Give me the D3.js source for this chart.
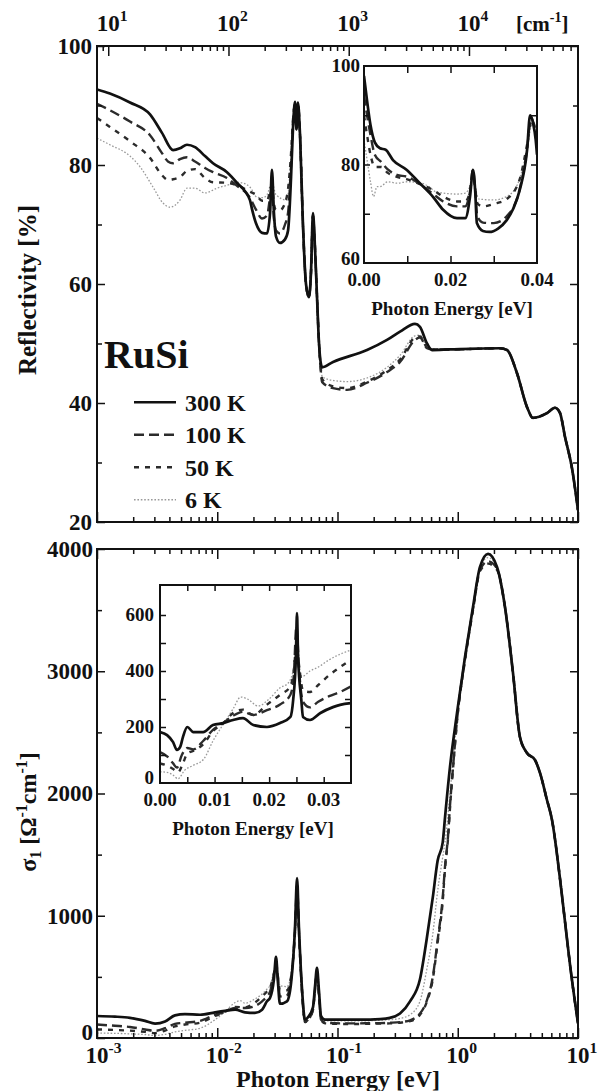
<!DOCTYPE html>
<html>
<head>
<meta charset="utf-8">
<script src="https://cdn.jsdelivr.net/npm/d3@7"></script>
<style>
  body { margin: 0; background: #fff; }
  text { font-family: 'Liberation Serif', 'Times New Roman', serif; font-weight: bold; fill: #111; }
</style>
</head>
<body>
<svg id="chart" width="600" height="1091"></svg>
<script>
/*
*   RuSi reflectivity and optical conductivity
*/

// ---------- data (photon energy in eV, value) ----------
var temps = ["300 K", "100 K", "50 K", "6 K"];

// reflectivity [%], main panel
var refl300 = [[0.001,92.7],[0.00128,92],[0.00188,90.5],[0.00276,88.5],[0.00347,85.4],[0.00429,82.5],[0.0049,82.8],[0.0056,83.4],[0.00653,83],[0.00791,81.5],[0.00922,80.3],[0.01205,78.8],[0.0146,77],[0.0187,74.1],[0.0195,72.5],[0.021,70.2],[0.0236,68.6],[0.0259,68.5],[0.0275,72],[0.0285,79.2],[0.0296,72],[0.0308,68],[0.0332,66.9],[0.0366,67.5],[0.0388,69],[0.0411,78],[0.0426,86],[0.0443,90.6],[0.0456,86],[0.0469,90.5],[0.0488,85],[0.0516,70],[0.0547,60],[0.0579,57.8],[0.0602,62],[0.0625,71.9],[0.065,66],[0.0675,58],[0.0702,50],[0.0729,46.5],[0.0746,46],[0.0918,46.9],[0.176,48.9],[0.258,50.6],[0.331,52],[0.441,53.3],[0.485,52.8],[0.555,50],[0.611,48.9],[0.862,49],[2.25,49.2],[2.57,48.9],[3.11,45],[3.77,39.3],[4.22,37.5],[5.52,38.3],[6.44,39.2],[7.09,38.3],[7.8,34.3],[8.92,29],[10,22]];
var refl100 = [[0.001,90.3],[0.00128,89.2],[0.00188,87.3],[0.00276,85],[0.00347,82],[0.00389,80.6],[0.00429,80.3],[0.0049,81],[0.0056,81.3],[0.00653,80.6],[0.00791,79.5],[0.00922,78.8],[0.01205,77.8],[0.0146,76.5],[0.0187,74.5],[0.021,72.5],[0.0236,71],[0.0259,71.5],[0.0285,76],[0.0296,71],[0.0308,69],[0.0332,68.5],[0.0366,70],[0.0388,72],[0.0411,80],[0.0426,87],[0.0443,90.3],[0.0456,86],[0.0469,90.2],[0.0488,85],[0.0516,70],[0.0547,60],[0.0579,57.8],[0.0602,62],[0.0625,71.5],[0.065,66],[0.0675,58],[0.0702,50],[0.0729,45],[0.0746,43.5],[0.0918,42.5],[0.12,42.2],[0.176,43.4],[0.258,45.2],[0.331,46.9],[0.441,50.6],[0.485,51],[0.555,49.2],[0.611,49],[0.862,49],[2.25,49.2],[2.57,48.9],[3.11,45],[3.77,39.3],[4.22,37.5],[5.52,38.3],[6.44,39.2],[7.09,38.3],[7.8,34.3],[8.92,29],[10,22]];
var refl50 = [[0.001,87.9],[0.00128,86.4],[0.00188,84],[0.00276,81.2],[0.00347,78.3],[0.00389,77.5],[0.00429,77.6],[0.0049,78],[0.0056,79],[0.00653,79.3],[0.00791,77.8],[0.00922,77.1],[0.01205,77],[0.0146,76.6],[0.0187,75.5],[0.021,75],[0.0236,74],[0.0259,74],[0.0285,76.5],[0.0296,73.5],[0.0308,72.5],[0.0332,72.4],[0.0366,73.6],[0.0388,76],[0.0411,82],[0.0426,87.5],[0.0443,90],[0.0456,86.5],[0.0469,90],[0.0488,85],[0.0516,70],[0.0547,60],[0.0579,57.8],[0.0602,62],[0.0625,71.5],[0.065,66],[0.0675,58],[0.0702,50],[0.0729,45.5],[0.0746,44],[0.0918,42.8],[0.12,42.5],[0.176,43.6],[0.258,45.5],[0.331,47.3],[0.441,51],[0.485,51.2],[0.555,49.3],[0.611,49],[0.862,49],[2.25,49.2],[2.57,48.9],[3.11,45],[3.77,39.3],[4.22,37.5],[5.52,38.3],[6.44,39.2],[7.09,38.3],[7.8,34.3],[8.92,29],[10,22]];
var refl6 = [[0.001,84.5],[0.00128,83.4],[0.00188,81.5],[0.00228,79.7],[0.00292,76.3],[0.00354,73.6],[0.00405,72.9],[0.0049,74.1],[0.0056,76.1],[0.00653,76.1],[0.00791,75.3],[0.00995,76.1],[0.01205,76.6],[0.0146,77.1],[0.0161,77],[0.0187,76.3],[0.0214,74.6],[0.024,74.5],[0.0259,75],[0.0285,77],[0.0308,75],[0.038,74.1],[0.0411,82],[0.0426,87.5],[0.0443,90],[0.0456,86.5],[0.0469,90],[0.0488,85],[0.0516,70],[0.0547,60],[0.0579,57.8],[0.0602,62],[0.0625,71.5],[0.065,66],[0.0675,58],[0.0702,50],[0.0729,46],[0.0746,44.4],[0.0918,43.8],[0.12,43.6],[0.176,44.2],[0.258,46],[0.331,48],[0.441,51.3],[0.485,51.4],[0.555,49.4],[0.611,49],[0.862,49],[2.25,49.2],[2.57,48.9],[3.11,45],[3.77,39.3],[4.22,37.5],[5.52,38.3],[6.44,39.2],[7.09,38.3],[7.8,34.3],[8.92,29],[10,22]];

// reflectivity [%], inset (linear energy)
var reflIn300 = [[0,98],[0.0007,93],[0.0015,88],[0.0025,84.5],[0.0037,83.3],[0.005,83],[0.0067,80.9],[0.0099,78.9],[0.0129,76.2],[0.016,73.4],[0.0183,70.8],[0.0215,69.1],[0.0234,69.1],[0.0245,73.4],[0.0252,78.9],[0.0257,74.8],[0.0261,68.1],[0.0275,66.5],[0.029,66.3],[0.031,67],[0.033,68.7],[0.0345,71],[0.036,74.8],[0.0377,82.9],[0.0384,90],[0.0391,88.4],[0.0397,85],[0.04,82]];
var reflIn100 = [[0,94],[0.0007,90],[0.0015,86],[0.0025,82],[0.004,80.5],[0.0055,79],[0.0076,77.9],[0.01,77.5],[0.013,76],[0.016,74],[0.0183,72.5],[0.0215,71.5],[0.0234,71.5],[0.0245,74.5],[0.0252,79],[0.0257,75],[0.0262,69.5],[0.0275,68.2],[0.03,68.1],[0.033,69.5],[0.036,75],[0.0377,83],[0.0386,89.5],[0.0393,88],[0.04,84]];
var reflIn50 = [[0,90],[0.0007,86],[0.0015,82],[0.0025,79.5],[0.004,79.5],[0.0055,78.3],[0.0076,77.5],[0.01,77],[0.013,76],[0.016,74.8],[0.0183,73.5],[0.0215,72.5],[0.0234,72.5],[0.0245,74.5],[0.0252,78],[0.0257,75],[0.0263,72],[0.0275,71.5],[0.03,72],[0.033,73],[0.036,77],[0.0377,84],[0.0388,89],[0.0395,87.5],[0.04,84]];
var reflIn6 = [[0,85],[0.0007,81],[0.0015,76.5],[0.0022,73.5],[0.003,75.5],[0.0037,75.5],[0.0055,76.5],[0.0076,76.2],[0.01,76.5],[0.013,76.3],[0.015,75.5],[0.0165,74.5],[0.0183,74.2],[0.0215,74],[0.0234,74.2],[0.0245,75.5],[0.0252,77],[0.0258,75],[0.0265,73],[0.03,72.8],[0.033,73.5],[0.0355,76],[0.0377,83],[0.0388,88],[0.0395,87],[0.04,84]];

// sigma1 [1/(Ohm cm)], main panel
var sig300 = [[0.001,180],[0.00141,175],[0.00188,165],[0.00251,140],[0.00304,118],[0.00368,135],[0.00445,185],[0.00539,195],[0.00719,190],[0.00958,210],[0.0116,222],[0.0141,232],[0.017,210],[0.0206,205],[0.0236,232],[0.0259,300],[0.0275,330],[0.0296,480],[0.0308,663],[0.032,450],[0.0332,280],[0.038,300],[0.0411,450],[0.0443,900],[0.0461,1309],[0.0478,900],[0.0507,400],[0.0537,150],[0.0568,170],[0.0625,250],[0.065,420],[0.0675,573],[0.0702,380],[0.0729,180],[0.0787,150],[0.105,150],[0.154,150],[0.226,155],[0.273,165],[0.331,200],[0.401,300],[0.485,480],[0.55,800],[0.62,1150],[0.68,1450],[0.75,1600],[0.783,1800],[0.862,2217],[0.986,2659],[1.149,3117],[1.339,3526],[1.531,3853],[1.785,3960],[2.12,3853],[2.47,3526],[2.88,2986],[3.29,2462],[3.77,2331],[4.39,2274],[4.83,2168],[5.52,1947],[6.08,1783],[7.09,1300],[7.8,950],[8.58,600],[10,120]];
var sig100 = [[0.001,110],[0.00141,100],[0.00188,90],[0.00251,70],[0.00304,58],[0.00368,80],[0.00445,115],[0.00539,125],[0.00719,140],[0.00958,190],[0.0116,214],[0.0141,245],[0.017,245],[0.0206,262],[0.0236,300],[0.0259,340],[0.0275,380],[0.0296,520],[0.0308,620],[0.032,480],[0.0332,340],[0.038,350],[0.0411,480],[0.0443,880],[0.0461,1250],[0.0478,880],[0.0507,380],[0.0537,130],[0.0568,150],[0.0625,230],[0.065,400],[0.0675,540],[0.0702,350],[0.0729,150],[0.0787,125],[0.105,120],[0.154,120],[0.226,122],[0.273,125],[0.331,130],[0.401,145],[0.485,200],[0.55,300],[0.62,500],[0.68,800],[0.75,1150],[0.783,1400],[0.83,1650],[0.862,1900],[0.92,2250],[0.986,2600],[1.149,3100],[1.339,3510],[1.531,3830],[1.785,3900],[2.12,3840],[2.47,3526],[2.88,2986],[3.29,2462],[3.77,2331],[4.39,2274],[4.83,2168],[5.52,1947],[6.08,1783],[7.09,1300],[7.8,950],[8.58,600],[10,120]];
var sig50 = [[0.001,70],[0.00141,66],[0.00188,60],[0.00251,50],[0.00304,40],[0.00368,60],[0.00445,95],[0.00539,110],[0.00719,125],[0.00958,180],[0.0116,214],[0.0141,255],[0.017,250],[0.0206,290],[0.0236,340],[0.0259,380],[0.0275,410],[0.0296,530],[0.0308,600],[0.032,500],[0.0332,390],[0.038,390],[0.0411,500],[0.0443,860],[0.0461,1200],[0.0478,860],[0.0507,380],[0.0537,130],[0.0568,150],[0.0625,230],[0.065,390],[0.0675,520],[0.0702,340],[0.0729,150],[0.0787,120],[0.105,115],[0.154,115],[0.226,118],[0.273,120],[0.331,125],[0.401,138],[0.485,190],[0.55,290],[0.62,480],[0.68,780],[0.75,1120],[0.783,1380],[0.83,1630],[0.862,1880],[0.92,2240],[0.986,2590],[1.149,3090],[1.339,3500],[1.531,3820],[1.785,3880],[2.12,3830],[2.47,3526],[2.88,2986],[3.29,2462],[3.77,2331],[4.39,2274],[4.83,2168],[5.52,1947],[6.08,1783],[7.09,1300],[7.8,950],[8.58,600],[10,120]];
var sig6 = [[0.001,40],[0.00141,38],[0.00188,34],[0.00251,28],[0.00304,20],[0.00368,30],[0.00445,50],[0.00539,62],[0.00719,80],[0.00958,150],[0.0116,215],[0.0141,290],[0.0155,305],[0.017,285],[0.0206,320],[0.0236,360],[0.0259,400],[0.0275,430],[0.0296,540],[0.0308,590],[0.032,520],[0.0332,430],[0.038,420],[0.0411,520],[0.0443,850],[0.0461,1150],[0.0478,850],[0.0507,380],[0.0537,140],[0.0568,160],[0.0625,240],[0.065,380],[0.0675,500],[0.0702,330],[0.0729,160],[0.0787,140],[0.105,140],[0.154,140],[0.226,145],[0.273,150],[0.331,160],[0.401,190],[0.485,300],[0.55,550],[0.62,850],[0.68,1200],[0.75,1480],[0.783,1600],[0.862,2000],[0.986,2620],[1.149,3100],[1.339,3515],[1.531,3840],[1.785,3930],[2.12,3845],[2.47,3526],[2.88,2986],[3.29,2462],[3.77,2331],[4.39,2274],[4.83,2168],[5.52,1947],[6.08,1783],[7.09,1300],[7.8,950],[8.58,600],[10,120]];

// sigma1, inset (linear energy)
var sigIn300 = [[0,182],[0.0013,171],[0.0024,146],[0.0031,118],[0.0037,129],[0.0042,164],[0.005,200],[0.0061,182],[0.0079,182],[0.0097,207],[0.0116,214],[0.0134,225],[0.0152,232],[0.0171,207],[0.0196,200],[0.022,214],[0.0239,236],[0.0244,296],[0.0249,450],[0.0251,607],[0.0253,450],[0.0259,296],[0.0262,236],[0.0275,225],[0.0294,250],[0.0317,271],[0.033,279],[0.035,285]];
var sigIn100 = [[0,110],[0.0013,95],[0.0024,70],[0.0031,55],[0.004,100],[0.005,125],[0.0061,120],[0.0079,150],[0.0097,190],[0.0116,214],[0.0134,240],[0.0152,254],[0.0171,243],[0.0196,260],[0.022,280],[0.0239,315],[0.0245,380],[0.025,560],[0.0255,400],[0.0262,290],[0.0275,270],[0.029,290],[0.031,310],[0.033,325],[0.035,345]];
var sigIn50 = [[0,70],[0.0013,62],[0.0024,50],[0.0033,38],[0.0042,70],[0.005,105],[0.0065,118],[0.008,140],[0.0097,185],[0.0116,214],[0.0134,250],[0.0152,262],[0.0171,243],[0.0196,280],[0.022,315],[0.0239,345],[0.0245,400],[0.025,490],[0.0256,400],[0.0262,330],[0.0275,325],[0.029,350],[0.031,385],[0.033,414],[0.035,440]];
var sigIn6 = [[0,40],[0.0013,38],[0.0024,28],[0.0033,15],[0.0045,45],[0.006,62],[0.008,85],[0.0097,150],[0.0116,210],[0.0134,265],[0.0148,307],[0.016,300],[0.018,275],[0.02,300],[0.022,340],[0.0235,357],[0.0245,410],[0.025,470],[0.0256,410],[0.026,380],[0.0275,400],[0.029,414],[0.031,440],[0.033,460],[0.035,475]];

// tick labels
var eVLabels = [-3, -2, -1, 0, 1];
var cmLabels = [1, 2, 3, 4];
var reflTicks = [20, 40, 60, 80, 100];
var sigTicks = [0, 1000, 2000, 3000, 4000];
var reflInYTicks = [60, 80, 100];
var reflInXTicks = [0, 0.02, 0.04];
var sigInYTicks = [0, 200, 400, 600];
var sigInXTicks = [0, 0.01, 0.02, 0.03];

// ---------- setup ----------
var svg = d3.select("#chart");

// line styles, same order as temps
var styles = [
    {stroke: "#111", width: 2.7, dash: null},
    {stroke: "#2b2b2b", width: 2.4, dash: "10,5"},
    {stroke: "#2b2b2b", width: 2.4, dash: "5,6"},
    {stroke: "#999", width: 1.3, dash: "1.6,1.8"}
];

var xR = d3.scaleLog().domain([1e-3, 10]).range([97, 578]);
var yR = d3.scaleLinear().domain([20, 100]).range([522, 46]);
var xCm = d3.scaleLog().domain([1e-3 * 8065.54, 10 * 8065.54]).range([97, 578]);
var xS = d3.scaleLog().domain([1e-3, 10]).range([97, 578]);
var yS = d3.scaleLinear().domain([0, 4000]).range([1038, 549]);
var xI1 = d3.scaleLinear().domain([0, 0.04]).range([364, 537]);
var yI1 = d3.scaleLinear().domain([60, 100]).range([263, 66]);
var xI2 = d3.scaleLinear().domain([0, 0.035]).range([160, 351]);
var yI2 = d3.scaleLinear().domain([0, 700]).range([783, 587]);

function logVals(sc, majors) {
    var out = [];
    var dom = sc.domain();
    var k0 = Math.floor(Math.log10(dom[0])), k1 = Math.ceil(Math.log10(dom[1]));
    for (var k = k0; k <= k1; k++) {
        for (var m = 1; m <= 9; m++) {
            var v = m * Math.pow(10, k);
            if (v < dom[0] * 0.999 || v > dom[1] * 1.001) continue;
            if ((m === 1) === majors) out.push(v);
        }
    }
    return out;
}

// inward ticks, no labels
function ticks(axisFn, sc, vals, len, tx, ty) {
    svg.append("g")
        .attr("transform", "translate(" + tx + "," + ty + ")")
        .call(axisFn(sc).tickValues(vals).tickSize(-len).tickFormat(""))
        .call(function(g) { g.select(".domain").remove(); })
        .selectAll("line").attr("stroke", "#111").attr("stroke-width", 1.5);
}

function frame(x0, y0, x1, y1, fill) {
    svg.append("rect")
        .attr("x", x0).attr("y", y0)
        .attr("width", x1 - x0).attr("height", y1 - y0)
        .attr("fill", fill || "none")
        .attr("stroke", "#111").attr("stroke-width", 2);
}

function clip(id, x0, y0, x1, y1) {
    svg.append("clipPath").attr("id", id)
        .append("rect").attr("x", x0).attr("y", y0).attr("width", x1 - x0).attr("height", y1 - y0);
}

function drawSeries(list, xs, ys, clipId) {
    var line = d3.line()
        .x(function(d) { return xs(d[0]); })
        .y(function(d) { return ys(d[1]); })
        .curve(d3.curveMonotoneX);
    var g = svg.append("g").attr("clip-path", "url(#" + clipId + ")");
    // coldest first so 300 K sits on top
    for (var i = list.length - 1; i >= 0; i--) {
        g.append("path")
            .attr("d", line(list[i]))
            .attr("fill", "none")
            .attr("stroke", styles[i].stroke)
            .attr("stroke-width", styles[i].width)
            .attr("stroke-dasharray", styles[i].dash)
            .attr("stroke-linejoin", "round");
    }
}

function powLabel(x, y, exp, size) {
    var t = svg.append("text")
        .attr("x", x - size * 0.5).attr("y", y)
        .attr("font-size", size);
    t.append("tspan").text("10");
    t.append("tspan").attr("font-size", size * 0.68).attr("dy", -size * 0.42)
        .text(exp < 0 ? "-" + Math.abs(exp) : exp);
}

// ---------- upper panel ----------
clip("clipR", 97, 46, 578, 522);
drawSeries([refl300, refl100, refl50, refl6], xR, yR, "clipR");

ticks(d3.axisBottom, xR, logVals(xR, true), 10, 0, 522);
ticks(d3.axisBottom, xR, logVals(xR, false), 5, 0, 522);
ticks(d3.axisTop, xCm, logVals(xCm, true), 10, 0, 46);
ticks(d3.axisTop, xCm, logVals(xCm, false), 5, 0, 46);
ticks(d3.axisLeft, yR, reflTicks, 8, 97, 0);
ticks(d3.axisLeft, yR, [30, 50, 70, 90], 5, 97, 0);
ticks(d3.axisRight, yR, reflTicks, 8, 578, 0);
ticks(d3.axisRight, yR, [30, 50, 70, 90], 5, 578, 0);
frame(97, 46, 578, 522);

svg.selectAll(".reflLab").data(reflTicks).join("text")
    .attr("class", "reflLab")
    .attr("x", 92).attr("y", function(d) { return yR(d); })
    .attr("dy", "0.34em").attr("text-anchor", "end").attr("font-size", 23)
    .text(function(d) { return d; });

cmLabels.forEach(function(k) { powLabel(xCm(Math.pow(10, k)), 31, k, 23); });
var cmT = svg.append("text").attr("x", 516).attr("y", 31).attr("font-size", 21);
cmT.append("tspan").text("[cm");
cmT.append("tspan").attr("font-size", 14).attr("dy", -9).text("-1");
cmT.append("tspan").attr("dy", 9).text("]");

svg.append("text")
    .attr("transform", "translate(36,290) rotate(-90)")
    .attr("text-anchor", "middle").attr("font-size", 25)
    .text("Reflectivity [%]");

svg.append("text").attr("x", 104).attr("y", 368).attr("font-size", 40).text("RuSi");

// legend
var legY = d3.scaleBand().domain(temps).range([386, 516]);
temps.forEach(function(t, i) {
    var yy = legY(t) + legY.bandwidth() / 2;
    svg.append("line")
        .attr("x1", 134).attr("x2", 176).attr("y1", yy).attr("y2", yy)
        .attr("stroke", styles[i].stroke).attr("stroke-width", styles[i].width)
        .attr("stroke-dasharray", styles[i].dash);
    svg.append("text").attr("x", 185).attr("y", yy).attr("dy", "0.35em")
        .attr("font-size", 24).text(t);
});

// upper inset
svg.append("rect").attr("x", 364).attr("y", 66).attr("width", 173).attr("height", 197).attr("fill", "#fff");
clip("clipI1", 364, 66, 537, 263);
drawSeries([reflIn300, reflIn100, reflIn50, reflIn6], xI1, yI1, "clipI1");
ticks(d3.axisBottom, xI1, [0.01, 0.02, 0.03], 7, 0, 263);
ticks(d3.axisTop, xI1, [0.01, 0.02, 0.03], 7, 0, 66);
ticks(d3.axisLeft, yI1, [70, 80, 90], 6, 364, 0);
ticks(d3.axisRight, yI1, [70, 80, 90], 6, 537, 0);
frame(364, 66, 537, 263);
svg.selectAll(".i1y").data(reflInYTicks).join("text")
    .attr("class", "i1y")
    .attr("x", 360).attr("y", function(d) { return yI1(d) - (d === 60 ? 4 : 0); })
    .attr("dy", "0.34em").attr("text-anchor", "end").attr("font-size", 19)
    .text(function(d) { return d; });
svg.selectAll(".i1x").data(reflInXTicks).join("text")
    .attr("class", "i1x")
    .attr("x", function(d) { return xI1(d); }).attr("y", 286)
    .attr("text-anchor", "middle").attr("font-size", 19)
    .text(function(d) { return d3.format(".2f")(d); });
svg.append("text").attr("x", 452).attr("y", 315).attr("text-anchor", "middle")
    .attr("font-size", 19).text("Photon Energy [eV]");

// ---------- lower panel ----------
clip("clipS", 97, 549, 578, 1038);
drawSeries([sig300, sig100, sig50, sig6], xS, yS, "clipS");

ticks(d3.axisBottom, xS, logVals(xS, true), 10, 0, 1038);
ticks(d3.axisBottom, xS, logVals(xS, false), 5, 0, 1038);
ticks(d3.axisTop, xS, logVals(xS, true), 10, 0, 549);
ticks(d3.axisTop, xS, logVals(xS, false), 5, 0, 549);
ticks(d3.axisLeft, yS, sigTicks, 8, 97, 0);
ticks(d3.axisLeft, yS, [500, 1500, 2500, 3500], 5, 97, 0);
ticks(d3.axisRight, yS, sigTicks, 8, 578, 0);
ticks(d3.axisRight, yS, [500, 1500, 2500, 3500], 5, 578, 0);
frame(97, 549, 578, 1038);

svg.selectAll(".sigLab").data(sigTicks).join("text")
    .attr("class", "sigLab")
    .attr("x", 93).attr("y", function(d) { return yS(d) - (d === 0 ? 6 : 0); })
    .attr("dy", "0.34em").attr("text-anchor", "end").attr("font-size", 23)
    .text(function(d) { return d; });

eVLabels.forEach(function(k) { powLabel(xS(Math.pow(10, k)), 1063, k, 23); });

svg.append("text").attr("x", 338).attr("y", 1087).attr("text-anchor", "middle")
    .attr("font-size", 24).text("Photon Energy [eV]");

var sigT = svg.append("text")
    .attr("transform", "translate(36,812) rotate(-90)")
    .attr("text-anchor", "middle").attr("font-size", 24);
sigT.append("tspan").text("σ");
sigT.append("tspan").attr("font-size", 16).attr("dy", 5).text("1");
sigT.append("tspan").attr("dy", -5).text(" [Ω");
sigT.append("tspan").attr("font-size", 16).attr("dy", -9).text("-1");
sigT.append("tspan").attr("dy", 9).text("cm");
sigT.append("tspan").attr("font-size", 16).attr("dy", -9).text("-1");
sigT.append("tspan").attr("dy", 9).text("]");

// lower inset
svg.append("rect").attr("x", 160).attr("y", 585).attr("width", 191).attr("height", 198).attr("fill", "#fff");
clip("clipI2", 160, 585, 351, 783);
drawSeries([sigIn300, sigIn100, sigIn50, sigIn6], xI2, yI2, "clipI2");
var inX = [0.005, 0.01, 0.015, 0.02, 0.025, 0.03];
ticks(d3.axisBottom, xI2, inX, 6, 0, 783);
ticks(d3.axisTop, xI2, inX, 6, 0, 585);
ticks(d3.axisLeft, yI2, [100, 200, 300, 400, 500, 600], 6, 160, 0);
ticks(d3.axisRight, yI2, [100, 200, 300, 400, 500, 600], 6, 351, 0);
frame(160, 585, 351, 783);
svg.selectAll(".i2y").data(sigInYTicks).join("text")
    .attr("class", "i2y")
    .attr("x", 154).attr("y", function(d) { return yI2(d) - (d === 0 ? 5 : 0); })
    .attr("dy", "0.34em").attr("text-anchor", "end").attr("font-size", 19)
    .text(function(d) { return d; });
svg.selectAll(".i2x").data(sigInXTicks).join("text")
    .attr("class", "i2x")
    .attr("x", function(d) { return xI2(d); }).attr("y", 806)
    .attr("text-anchor", "middle").attr("font-size", 19)
    .text(function(d) { return d3.format(".2f")(d); });
svg.append("text").attr("x", 253).attr("y", 835).attr("text-anchor", "middle")
    .attr("font-size", 19).text("Photon Energy [eV]");
</script>
</body>
</html>
